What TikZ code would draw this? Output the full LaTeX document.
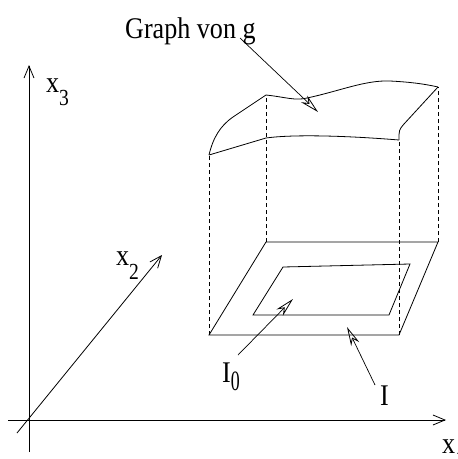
\documentclass[tikz,border=0pt]{standalone}
\usepackage{fontspec}
\setmainfont{Liberation Serif}
\usetikzlibrary{arrows.meta}
\newcommand{\lbl}[1]{\scalebox{0.87}[1]{\fontsize{30}{30}\selectfont #1}}
\newcommand{\subsc}[3]{\raisebox{#1}{\scalebox{0.85}[1]{\fontsize{#2}{#2}\selectfont #3}}}
\tikzset{
  ln/.style={line width=0.8pt},
  dsh/.style={line width=0.7pt, dash pattern=on 4pt off 3pt},
  axis/.style={line width=0.8pt, -{Straight Barb[length=12pt,width=10pt,line width=0.8pt]}},
  ptr/.style={line width=0.7pt, -{Stealth[open,length=19pt,width=9pt,inset=6pt,line width=0.8pt]}},
  txt/.style={inner sep=0pt, anchor=base west}
}
\begin{document}
\begin{tikzpicture}[x=1pt,y=-1pt]
\useasboundingbox (0,0) rectangle (458,459);
% axes
\coordinate (x1s) at (8,420);
\coordinate (x1e) at (446,420);
\coordinate (x3s) at (29,452);
\coordinate (x3e) at (29,65);
\coordinate (x2s) at (17,433);
\coordinate (x2e) at (162,255);
\draw[axis] (x1s) -- (x1e);
\draw[axis] (x3s) -- (x3e);
\draw[axis] (x2s) -- (x2e);
\node[txt] (lx3) at (46,92) {\lbl{x}\subsc{-13pt}{23}{3}};
\node[txt] (lx2) at (116,265) {\lbl{x}\subsc{-14pt}{23}{2}};
\node[txt] (lx1) at (442,453) {\lbl{x}\subsc{-13pt}{23}{1}};
% outer parallelogram I
\coordinate (o1) at (209,335);
\coordinate (o2) at (399,335);
\coordinate (o3) at (438,242);
\coordinate (o4) at (266,242);
\draw[ln] (o1) -- (o2) -- (o3) -- (o4) -- cycle;
% inner parallelogram I0
\coordinate (i1) at (253,315);
\coordinate (i2) at (389,315);
\coordinate (i3) at (410,264);
\coordinate (i4) at (283,267);
\draw[ln] (i1) -- (i2) -- (i3) -- (i4) -- cycle;
% surface corners
\coordinate (A) at (209,155);
\coordinate (B) at (266,95);
\coordinate (C) at (438,87);
\coordinate (D) at (399,140);
% dashed verticals
\draw[dsh] (o1) -- (A);
\draw[dsh] (o4) -- (B);
\draw[dsh] (o2) -- (D);
\draw[dsh] (o3) -- (C);
% surface
\draw[ln] (A) -- (266,138) .. controls (295,134) and (350,136) .. (D);
\draw[ln] (A) .. controls (213,138) and (220,126) .. (233,117) -- (B);
\draw[ln] (B) .. controls (285,97) and (295,101) .. (307,98)
  .. controls (340,91) and (365,80) .. (390,81)
  .. controls (410,82) and (425,84) .. (C);
\draw[ln] (C) -- (404,124) .. controls (399,130) .. (D);
% labels and pointers
\node[txt] (lg) at (125,38) {\lbl{Graph von g}};
\coordinate (gs) at (240,38);
\coordinate (ge) at (318,112);
\draw[ptr] (gs) -- (ge);
\node[txt] (li0) at (222,382) {\lbl{I}\subsc{-8pt}{28}{\scalebox{0.75}[1]{0}}};
\coordinate (i0s) at (238,355);
\coordinate (i0e) at (293,299);
\draw[ptr] (i0s) -- (i0e);
\node[txt] (li) at (380,405) {\lbl{I}};
\coordinate (is) at (375,385);
\coordinate (ie) at (347,327);
\draw[ptr] (is) -- (ie);
\end{tikzpicture}
\end{document}
